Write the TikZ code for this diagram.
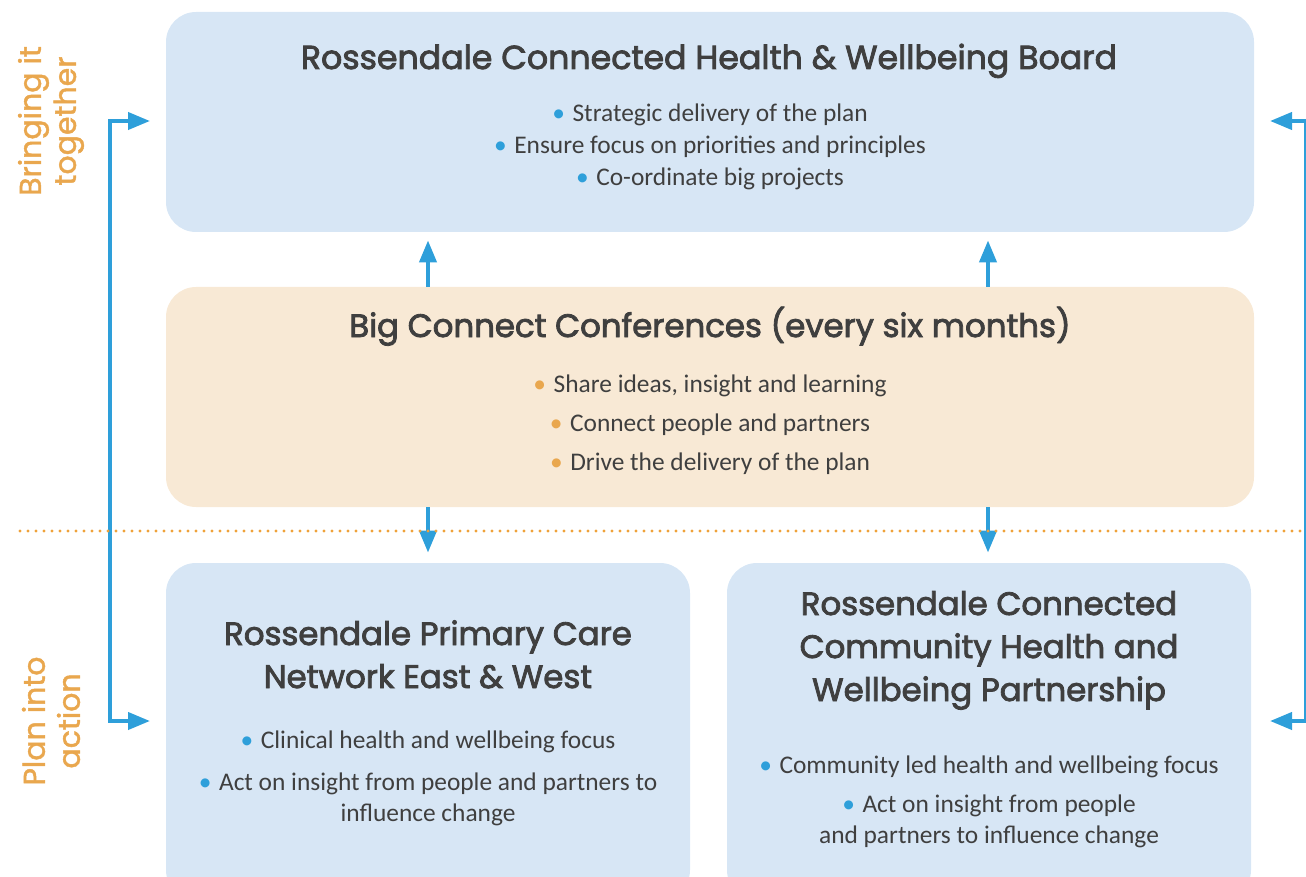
\documentclass[tikz,border=0pt]{standalone}
\usepackage{fontspec}
\setmainfont{Carlito}
\newfontfamily\headfont{Poppins}[FakeBold=2.5]
\newfontfamily\sidefont{Poppins}[FakeBold=1.5]
\usetikzlibrary{arrows.meta}
\definecolor{boxblue}{HTML}{D7E6F5}
\definecolor{boxsand}{HTML}{F8E9D5}
\definecolor{linkblue}{HTML}{2E9FDA}
\definecolor{sidegold}{HTML}{E9A74E}
\definecolor{dotgold}{HTML}{EFA23A}
\definecolor{inkgrey}{HTML}{3F3F3F}
\newcommand{\bluebul}{{\color{linkblue}\textbullet}\hspace{0.3em}}
\newcommand{\goldbul}{{\color{sidegold}\textbullet}\hspace{0.3em}}
\begin{document}
\begin{tikzpicture}[x=0.5pt, y=-0.5pt,
  box/.style={rounded corners=15pt, inner sep=0pt},
  head/.style={font=\headfont\fontsize{16.2}{19}\selectfont, text=inkgrey, anchor=base, inner sep=0pt},
  item/.style={font=\fontsize{12.7}{15}\selectfont, text=inkgrey, anchor=base, inner sep=0pt},
  sidelabel/.style={font=\sidefont\fontsize{15}{17.5}\selectfont, text=sidegold, rotate=90, align=center, inner sep=0pt},
  flow/.style={line width=2pt, linkblue, -{Triangle[length=11pt,width=8.5pt]}},
  side/.style={line width=2pt, linkblue, {Triangle[length=11pt,width=8.5pt]}-{Triangle[length=11pt,width=8.5pt]}}]
\useasboundingbox (0,0) rectangle (1306,877);
% boxes
\node [box, fill=boxblue, minimum width=544pt, minimum height=110pt] (board) at (710,122) {};
\node [box, fill=boxsand, minimum width=544pt, minimum height=110pt] (conf) at (710,397) {};
\node [box, fill=boxblue, minimum width=262pt, minimum height=168.5pt] (pcn) at (428,731.5) {};
\node [box, fill=boxblue, minimum width=262pt, minimum height=168.5pt] (cwp) at (989,731.5) {};
% texts
\node [head, font=\headfont\fontsize{16.6}{19}\selectfont] (boardT) at (709,69) {Rossendale Connected Health \& Wellbeing Board};
\node [item] (boardA) at (710,122) {\bluebul Strategic delivery of the plan};
\node [item] (boardB) at (710,154) {\bluebul Ensure focus on priorities and principles};
\node [item] (boardC) at (710,186) {\bluebul Co-ordinate big projects};
\node [head] (confT) at (710,337) {Big Connect Conferences (every six months)};
\node [item] (confA) at (710,392) {\goldbul Share ideas, insight and learning};
\node [item] (confB) at (710,431) {\goldbul Connect people and partners};
\node [item] (confC) at (710,470) {\goldbul Drive the delivery of the plan};
\node [head] (pcnT1) at (428,645) {Rossendale Primary Care};
\node [head] (pcnT2) at (428,688) {Network East \& West};
\node [item] (pcnA) at (428,748) {\bluebul Clinical health and wellbeing focus};
\node [item] (pcnB) at (428,790) {\bluebul Act on insight from people and partners to};
\node [item] (pcnC) at (428,821) {influence change};
\node [head] (cwpT1) at (989,615) {Rossendale Connected};
\node [head] (cwpT2) at (989,658) {Community Health and};
\node [head] (cwpT3) at (989,701) {Wellbeing Partnership};
\node [item] (cwpA) at (989,773) {\bluebul Community led health and wellbeing focus};
\node [item] (cwpB) at (989,812) {\bluebul Act on insight from people};
\node [item] (cwpC) at (989,843) {and partners to influence change};
\node [sidelabel] (bring) at (51,121) {Bringing it\\together};
\node [sidelabel] (plan) at (51,721) {Plan into\\action};
% links
\coordinate (colA) at (428,0);
\coordinate (colB) at (988,0);
\draw [flow, shorten >=4pt] (conf.north -| colA) -- (board.south -| colA);
\draw [flow, shorten >=4pt] (conf.north -| colB) -- (board.south -| colB);
\draw [flow, shorten >=5pt] (conf.south -| colA) -- (pcn.north -| colA);
\draw [flow, shorten >=5pt] (conf.south -| colB) -- (cwp.north -| colB);
\coordinate (lt) at (150,121);
\coordinate (lb) at (150,721);
\coordinate (lbar) at (110,421);
\coordinate (rt) at (1270,121);
\coordinate (rb) at (1270,721);
\coordinate (rbar) at (1306,421);
\draw [side] (lt) -| (lbar) |- (lb);
\draw [side] (rt) -| (rbar) |- (rb);
\coordinate (dotL) at (20,531);
\coordinate (dotR) at (1306,531);
\draw [dotgold, line width=1.6pt, line cap=round, dash pattern=on 0pt off 4pt] (dotL) -- (dotR);
\end{tikzpicture}
\end{document}
